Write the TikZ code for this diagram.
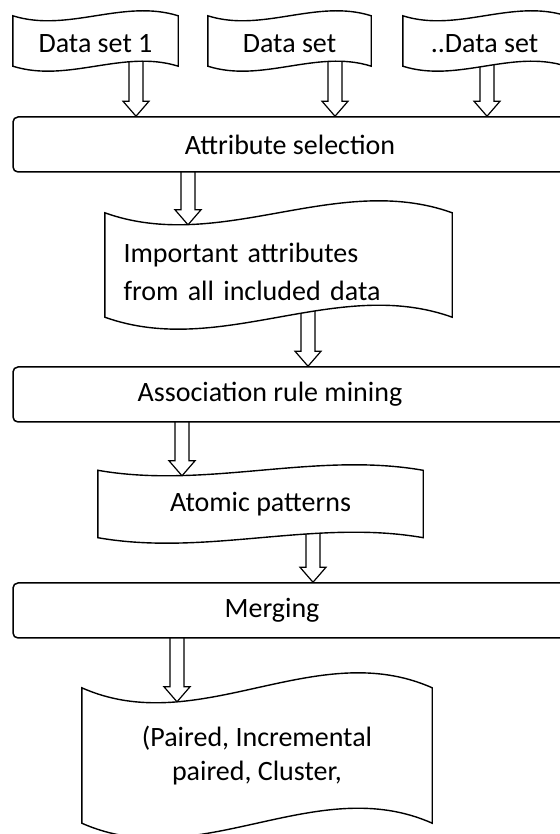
\documentclass[tikz,border=0pt]{standalone}
\usepackage{fontspec}
\setmainfont{Carlito}
\usetikzlibrary{calc}

\pgfdeclarelayer{arrowlayer}
\pgfdeclarelayer{outline}
\pgfsetlayers{arrowlayer,outline,main}

% hollow block arrow pointing down, from #1 to #2
\newcommand{\blockarrow}[2]{%
  \draw[arrowbody] let \p1=(#1), \p2=(#2) in
    (\x1-7pt,\y1) -- (\x1-7pt,\y2+15pt) -- (\x1-13pt,\y2+15pt) -- (\x1,\y2)
    -- (\x1+13pt,\y2+15pt) -- (\x1+7pt,\y2+15pt) -- (\x1+7pt,\y1) -- cycle;}

% wavy document outline round node #1, bend #2
\newcommand{\wavebox}[2]{%
  \draw[flagline] let \p1=(#1.south west), \p2=(#1.north east),
      \n1={(\x2-\x1)/3}, \n2={#2*3.46} in
    (\x1,\y2) .. controls (\x1+\n1,\y2-\n2) and (\x2-\n1,\y2+\n2) .. (\x2,\y2)
    -- (\x2,\y1) .. controls (\x2-\n1,\y1+\n2) and (\x1+\n1,\y1-\n2) .. (\x1,\y1) -- cycle;}

\begin{document}
\begin{tikzpicture}[x=1pt,y=1pt]
    \tikzstyle{every node}=[font=\fontsize{28}{36}\selectfont]
    \tikzstyle{flag}=[rectangle, inner sep=0pt]
    \tikzstyle{source}=[flag, minimum width=163pt, minimum height=50pt, text height=24pt, text depth=0pt]
    \tikzstyle{flagline}=[draw, fill=white, line width=1.4pt]
    \tikzstyle{stage}=[rectangle, rounded corners=5pt, draw, fill=white, line width=1.5pt, minimum width=554pt, minimum height=55pt]
    \tikzstyle{arrowbody}=[draw, fill=white, line width=1.2pt]
    \useasboundingbox (0,0) rectangle (559,834);

    \node[source, minimum width=165pt] (ds1) at (95.5,793) {Data set 1};
    \node[source] (ds2) at (289.5,793) {Data set};
    \node[source] (ds3) at (484.5,793) {..Data set};
    \node[stage] (attr) at (290,689.5) {Attribute selection};
    \node[flag, minimum width=347pt, minimum height=104pt, text width=310pt, align=left,
          font=\fontsize{28}{38}\selectfont] (imp) at (278.5,569)
          {\rule{0pt}{34pt}Important attributes\\from all included data};
    \node[stage, label={[xshift=-20pt]center:Association rule mining}] (assoc) at (290,439.5) {};
    \node[flag, minimum width=325pt, minimum height=67pt] (atomic) at (260.5,330) {Atomic patterns};
    \node[stage, label={[xshift=-18pt]center:Merging}] (merge) at (290,223.5) {};
    \node[flag, minimum width=350pt, minimum height=135pt, align=center,
          font=\fontsize{28}{34}\selectfont] (final) at (257,78.5)
          {(Paired, Incremental\\paired, Cluster,};

    \begin{pgfonlayer}{outline}
      \wavebox{ds1}{5}
      \wavebox{ds2}{5}
      \wavebox{ds3}{5}
      \wavebox{imp}{12}
      \wavebox{atomic}{5.5}
      \wavebox{final}{15}
    \end{pgfonlayer}

    \begin{pgfonlayer}{arrowlayer}
      \blockarrow{ds1.center -| 136,0}{attr.north -| 136,0}
      \blockarrow{ds2.center -| 335,0}{attr.north -| 335,0}
      \blockarrow{ds3.center -| 487,0}{attr.north -| 487,0}
      \blockarrow{attr.center -| 188,0}{$(imp.north -| 188,0)+(0,-12)$}
      \blockarrow{imp.center -| 308,0}{assoc.north -| 308,0}
      \blockarrow{assoc.center -| 182,0}{$(atomic.north -| 182,0)+(0,-5.5)$}
      \blockarrow{atomic.center -| 313,0}{merge.north -| 313,0}
      \blockarrow{merge.center -| 177,0}{$(final.north -| 177,0)+(0,-14)$}
    \end{pgfonlayer}
\end{tikzpicture}
\end{document}
